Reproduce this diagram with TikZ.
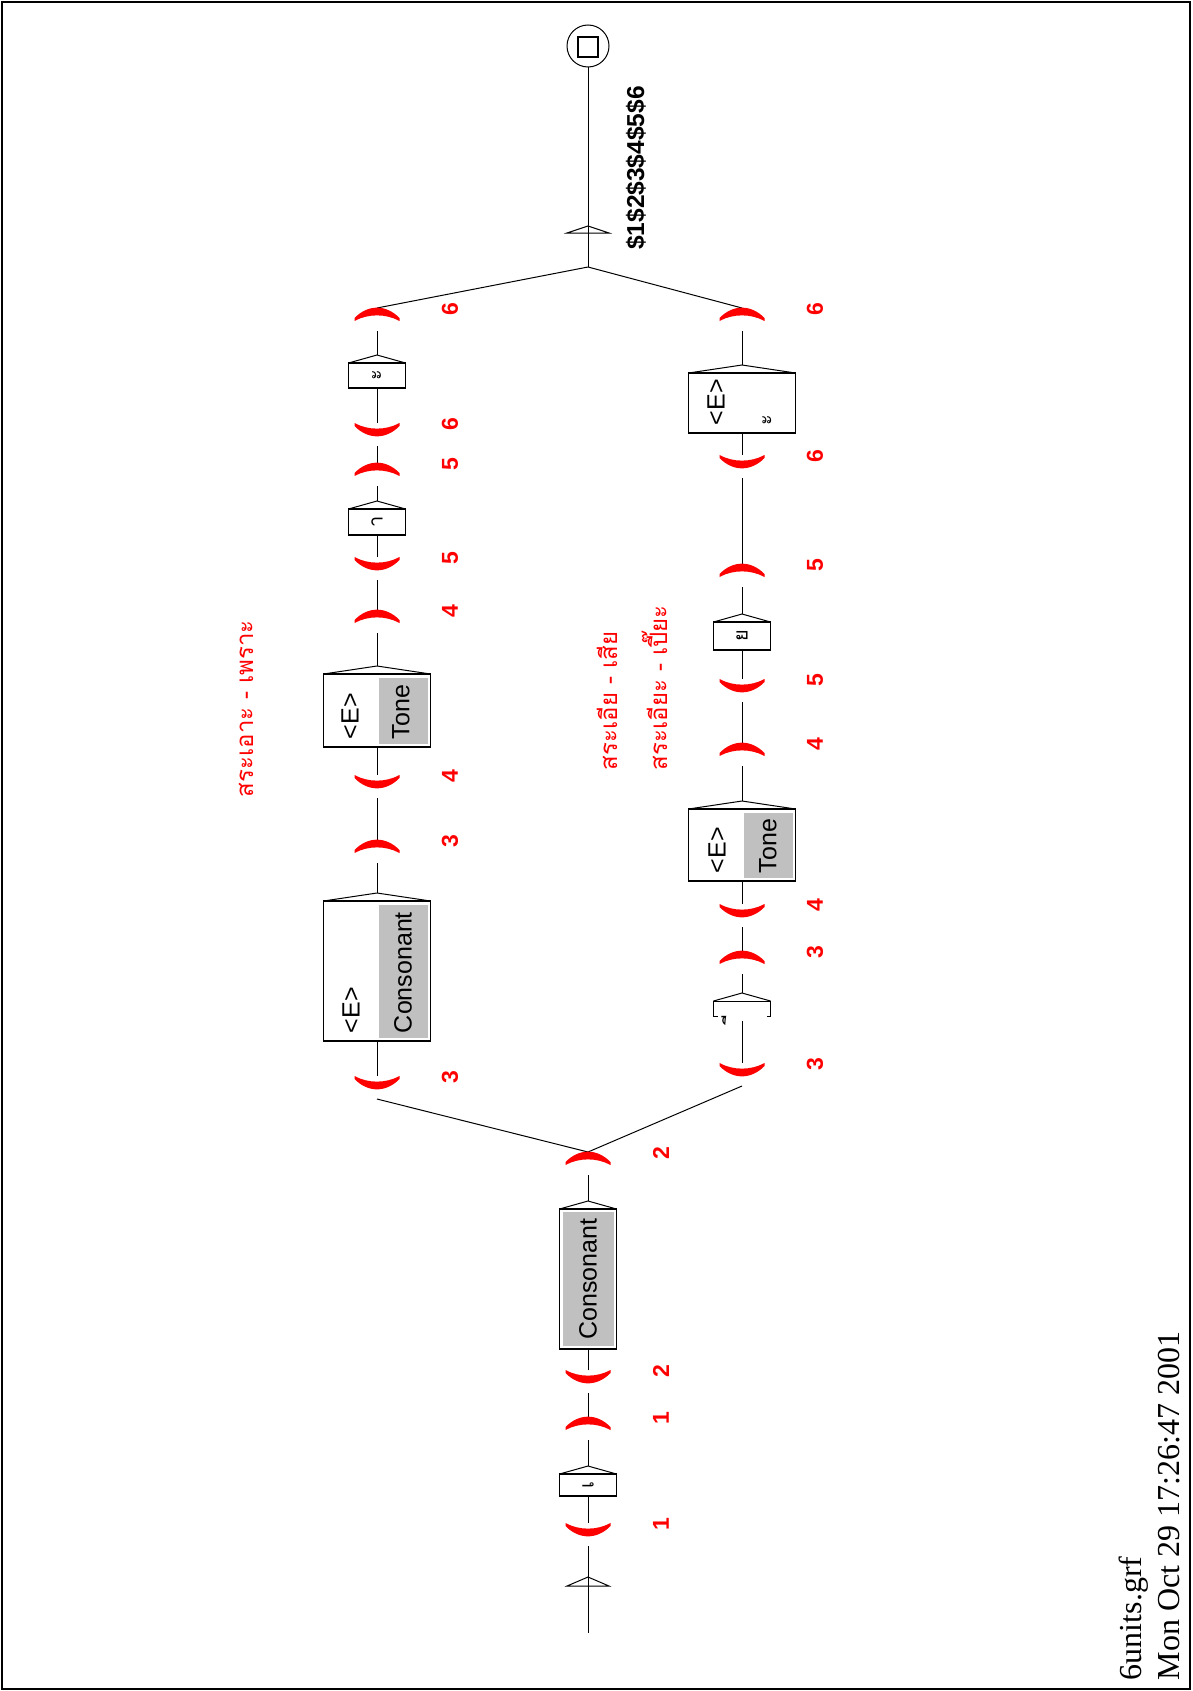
\documentclass[tikz,border=0pt]{standalone}
\usepackage{fontspec}
\usepackage{graphicx}
\setmainfont{Liberation Serif}
\newfontfamily\uxsans{Liberation Sans}
\newfontfamily\thaifont[Script=Thai]{Loma}
\newfontfamily\thaimark{Loma}
\definecolor{uxgray}{RGB}{192,192,192}
\newcommand\uxopen[1]{\fill[red] ([shift={(-22.5,3)}]#1.north) .. controls +(13.5,13.8) and +(-13.5,13.8) .. ([shift={(22.5,3)}]#1.north) -- ([shift={(22.5,0)}]#1.north) .. controls +(-13.5,7.5) and +(13.5,7.5) .. ([shift={(-22.5,0)}]#1.north) -- cycle;}
\newcommand\uxclose[1]{\fill[red] ([shift={(-22.5,10)}]#1.north) .. controls +(13.5,-13.8) and +(-13.5,-13.8) .. ([shift={(22.5,10)}]#1.north) -- ([shift={(22.5,13)}]#1.north) .. controls +(-13.5,-7.5) and +(13.5,-7.5) .. ([shift={(-22.5,13)}]#1.north) -- cycle;}
\newcommand\uxtri[1]{\draw (#1.north west) -- ([yshift=8pt]#1.north) -- (#1.north east); \coordinate (#1-o) at ([yshift=8pt]#1.north);}
\begin{document}
\begin{tikzpicture}[x=1pt,y=-1pt,line width=1pt,
  every node/.style={inner sep=0pt,outer sep=0pt},
  parn/.style={minimum width=46pt,minimum height=23pt},
  ubox/.style={draw,line width=1.2pt,fill=white},
  sbox/.style={ubox,minimum width=57pt},
  wbox/.style={ubox,minimum width=107pt},
  num/.style={text=red,font=\uxsans\bfseries\fontsize{23}{23}\selectfont,rotate=90},
  btxt/.style={font=\uxsans\fontsize{25}{25}\selectfont,rotate=90,anchor=west},
  thbox/.style={font=\thaifont\fontsize{20}{20}\selectfont,rotate=90},
  thlab/.style={text=red,font=\thaifont\fontsize{24}{24}\selectfont,rotate=90,anchor=base west},
  foot/.style={font=\fontsize{32}{32}\selectfont,rotate=90,anchor=base west}
]
\useasboundingbox (0,0) rectangle (1192,1691);
\draw[line width=2pt] (2,2) rectangle (1190,1689);

% main column
\coordinate (s0) at (588,1633);
\node[parn] (p1o) at (588,1534.5) {};
\node[sbox,minimum height=22pt] (be) at (588,1485) {};
\node[parn] (p1c) at (588,1428.5) {};
\node[parn] (p2o) at (588,1381.5) {};
\node[sbox,minimum height=140pt] (bcons) at (588,1279) {};
\node[parn] (p2c) at (588,1163.5) {};

% upper branch
\node[parn] (p3ou) at (377,1087.5) {};
\node[wbox,minimum height=140pt] (bec) at (377,971) {};
\node[parn] (p3cu) at (377,851.5) {};
\node[parn] (p4ou) at (377,786.5) {};
\node[wbox,minimum height=73pt] (btu) at (377,710.5) {};
\node[parn] (p4cu) at (377,621.5) {};
\node[parn] (p5ou) at (377,568.5) {};
\node[sbox,minimum height=26pt] (baa) at (377,522) {};
\node[parn] (p5cu) at (377,474.5) {};
\node[parn] (p6ou) at (377,434.5) {};
\node[sbox,minimum height=25pt] (ba) at (377,375.5) {};
\node[parn] (p6cu) at (377,319.5) {};

% lower branch
\node[parn] (p3ol) at (742,1074.5) {};
\node[minimum width=57pt,minimum height=20pt] (bii) at (742,1011) {};
\node[parn] (p3cl) at (742,962.5) {};
\node[parn] (p4ol) at (742,915.5) {};
\node[wbox,minimum height=72pt] (btl) at (742,845) {};
\node[parn] (p4cl) at (742,754.5) {};
\node[parn] (p5ol) at (742,690.5) {};
\node[sbox,minimum height=28pt] (byo) at (742,636) {};
\node[parn] (p5cl) at (742,575.5) {};
\node[parn] (p6ol) at (742,466.5) {};
\node[wbox,minimum height=60pt] (bea) at (742,403) {};
\node[parn] (p6cl) at (742,319.5) {};

\coordinate (join) at (588,267);
\node[draw,circle,minimum size=42pt] (fin) at (588,46) {};
\node[draw,line width=1.4pt,minimum size=20pt] (finsq) at (588,47) {};

% gray areas
\fill[uxgray] ([shift={(3,3)}]bcons.north west) rectangle ([shift={(-3,-3)}]bcons.south east);
\fill[uxgray] ([shift={(1.5,4)}]bec.north) rectangle ([shift={(-2.5,-3)}]bec.south east);
\fill[uxgray] ([shift={(1.5,4)}]btu.north) rectangle ([shift={(-2.5,-3)}]btu.south east);
\fill[uxgray] ([shift={(1.5,4)}]btl.north) rectangle ([shift={(-2.5,-3)}]btl.south east);

% box triangles
\uxtri{be}\uxtri{bcons}\uxtri{bec}\uxtri{btu}\uxtri{baa}\uxtri{ba}
\uxtri{bii}\uxtri{btl}\uxtri{byo}\uxtri{bea}
\draw ([shift={(4,15)}]bii.north west) -- ([shift={(0,15)}]bii.north west) -- (bii.north west) -- (bii.north east) -- ([shift={(0,15)}]bii.north east) -- ([shift={(-4,15)}]bii.north east);

% connectors
\draw (s0) -- (p1o.south);
\draw (p1o.north) -- (be.south);
\draw (be-o) -- (p1c.south);
\draw (p1c.north) -- (p2o.south);
\draw (p2o.north) -- (bcons.south);
\draw (bcons-o) -- (p2c.south);
\draw (p2c.north) -- (p3ou.south);
\draw (p2c.north) -- (p3ol.south);
\draw (p3ou.north) -- (bec.south);
\draw (bec-o) -- (p3cu.south);
\draw (p3cu.north) -- (p4ou.south);
\draw (p4ou.north) -- (btu.south);
\draw (btu-o) -- (p4cu.south);
\draw (p4cu.north) -- (p5ou.south);
\draw (p5ou.north) -- (baa.south);
\draw (baa-o) -- (p5cu.south);
\draw (p5cu.north) -- (p6ou.south);
\draw (p6ou.north) -- (ba.south);
\draw (ba-o) -- (p6cu.south);
\draw (p6cu.north) -- (join);
\draw (p3ol.north) -- (bii.south);
\draw (bii-o) -- (p3cl.south);
\draw (p3cl.north) -- (p4ol.south);
\draw (p4ol.north) -- (btl.south);
\draw (btl-o) -- (p4cl.south);
\draw (p4cl.north) -- (p5ol.south);
\draw (p5ol.north) -- (byo.south);
\draw (byo-o) -- (p5cl.south);
\draw (p5cl.north) -- (p6ol.south);
\draw (p6ol.north) -- (bea.south);
\draw (bea-o) -- (p6cl.south);
\draw (p6cl.north) -- (join);
\draw (join) -- (fin.south);

% state arrows
\draw (567,1586) -- (588,1577) -- (609,1586) -- cycle;
\draw (567,233) -- (588,226) -- (609,233) -- cycle;

% parentheses
\uxopen{p1o}\uxclose{p1c}\uxopen{p2o}\uxclose{p2c}
\uxopen{p3ou}\uxclose{p3cu}\uxopen{p4ou}\uxclose{p4cu}\uxopen{p5ou}\uxclose{p5cu}\uxopen{p6ou}\uxclose{p6cu}
\uxopen{p3ol}\uxclose{p3cl}\uxopen{p4ol}\uxclose{p4cl}\uxopen{p5ol}\uxclose{p5cl}\uxopen{p6ol}\uxclose{p6cl}

% numbers
\node[num] (n1) at ([shift={(73,-10.5)}]p1o.center) {1};
\node[num] (n2) at ([shift={(73,-10.5)}]p1c.center) {1};
\node[num] (n3) at ([shift={(73,-10.5)}]p2o.center) {2};
\node[num] (n4) at ([shift={(73,-10.5)}]p2c.center) {2};
\node[num] (n5) at ([shift={(73,-10.5)}]p3ou.center) {3};
\node[num] (n6) at ([shift={(73,-10.5)}]p3cu.center) {3};
\node[num] (n7) at ([shift={(73,-10.5)}]p4ou.center) {4};
\node[num] (n8) at ([shift={(73,-10.5)}]p4cu.center) {4};
\node[num] (n9) at ([shift={(73,-10.5)}]p5ou.center) {5};
\node[num] (n10) at ([shift={(73,-10.5)}]p5cu.center) {5};
\node[num] (n11) at ([shift={(73,-10.5)}]p6ou.center) {6};
\node[num] (n12) at ([shift={(73,-10.5)}]p6cu.center) {6};
\node[num] (n13) at ([shift={(73,-10.5)}]p3ol.center) {3};
\node[num] (n14) at ([shift={(73,-10.5)}]p3cl.center) {3};
\node[num] (n15) at ([shift={(73,-10.5)}]p4ol.center) {4};
\node[num] (n16) at ([shift={(73,-10.5)}]p4cl.center) {4};
\node[num] (n17) at ([shift={(73,-10.5)}]p5ol.center) {5};
\node[num] (n18) at ([shift={(73,-10.5)}]p5cl.center) {5};
\node[num] (n19) at ([shift={(73,-10.5)}]p6ol.center) {6};
\node[num] (n20) at ([shift={(73,-10.5)}]p6cl.center) {6};

% box texts
\node[thbox] (t-be) at (be.center) {เ};
\node[btxt,anchor=center] (t-bcons) at (bcons.center) {Consonant};
\node[btxt] (t-bec1) at (351,1033) {<E>};
\node[btxt] (t-bec2) at (403,1033) {Consonant};
\node[btxt] (t-btu1) at (350,739) {<E>};
\node[btxt] (t-btu2) at (401,739) {Tone};
\node[thbox] (t-baa) at (baa.center) {า};
\node[thbox] (t-ba) at (ba.center) {ะ};
\node[font=\thaimark\fontsize{20}{20}\selectfont,rotate=90] (t-bii) at (730,1014) {ี};
\node[btxt] (t-btl1) at (717,873) {<E>};
\node[btxt] (t-btl2) at (768,873) {Tone};
\node[thbox] (t-byo) at (byo.center) {ย};
\node[btxt] (t-bea1) at (716,425) {<E>};
\node[thbox,anchor=west] (t-bea2) at (767,425) {ะ};

% output
\node[rotate=90,font=\uxsans\bfseries\fontsize{24.5}{24.5}\selectfont] (out) at (636,168) {\$1\$2\$3\$4\$5\$6};

% comments
\node[thlab] (th1) at (253,797) {สระเอาะ - เพราะ};
\node[thlab] (th2) at (617,770) {สระเอีย - เสีย};
\node[thlab] (th3) at (667,770) {สระเอียะ - เปี๊ยะ};

% footer
\node[foot] (f1) at (1141,1680) {6units.grf};
\node[foot] (f2) at (1179,1680) {Mon Oct 29 17:26:47 2001};
\end{tikzpicture}
\end{document}
